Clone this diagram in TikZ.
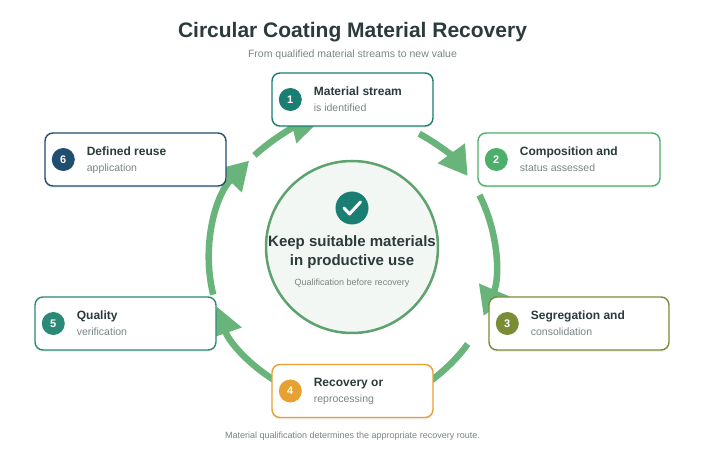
\documentclass[tikz,border=0pt]{standalone}
\usepackage{fontspec}
\setmainfont{Liberation Sans}
\usetikzlibrary{arrows.meta,shadows,calc}
\definecolor{ink}{HTML}{2B3A3A}
\definecolor{muted}{HTML}{7A8585}
\definecolor{ring}{HTML}{68B47A}
\definecolor{cA}{HTML}{1A7F72}
\definecolor{cB}{HTML}{4CAF6A}
\definecolor{cC}{HTML}{7A8C35}
\definecolor{cD}{HTML}{E8A030}
\definecolor{cE}{HTML}{2A8A78}
\definecolor{cF}{HTML}{1F4E6E}
\begin{document}
\begin{tikzpicture}[x=1pt,y=1pt,
  ringarrow/.style={draw=ring,line width=6.5pt,-{Triangle[length=28pt,width=32pt]}},
  box/.style={draw=#1,line width=1.4pt,fill=white,rounded corners=8pt,minimum height=53pt,
    drop shadow={shadow xshift=0pt,shadow yshift=-2pt,opacity=0.12}},
  num/.style={circle,fill=#1,text=white,font=\bfseries\fontsize{11}{11}\selectfont,minimum size=23pt,inner sep=0pt},
  t1/.style={font=\bfseries\fontsize{12}{14}\selectfont,text=ink,anchor=base west},
  t2/.style={font=\fontsize{10.5}{12}\selectfont,text=muted,anchor=base west}]
\useasboundingbox (0,0) rectangle (705,453);
\fill[white] (0,0) rectangle (705,453);
\node[font=\bfseries\fontsize{21}{24}\selectfont,text=ink] (title) at (352.5,421) {Circular Coating Material Recovery};
\node[font=\fontsize{10.5}{12}\selectfont,text=muted] (sub) at (352.5,398) {From qualified material streams to new value};
\node[font=\fontsize{9}{11}\selectfont,text=muted] (foot) at (352.5,17) {Material qualification determines the appropriate recovery route.};
% ring
\coordinate (c) at (352,193);
\draw[ringarrow] ($(c)+(62:143)$) arc (62:36:143);
\draw[ringarrow] ($(c)+(27:143)$) arc (27:-23:143);
\draw[ringarrow] ($(c)+(-36:143)$) arc (-36:-82:143);
\draw[ringarrow] ($(c)+(246:143)$) arc (246:199:143);
\draw[ringarrow] ($(c)+(194:143)$) arc (194:136:143);
\draw[ringarrow] ($(c)+(133:143)$) arc (133:103:143);
% centre
\node[circle,draw=ring!90!black,line width=2.5pt,fill={rgb,255:red,242;green,247;blue,243},minimum size=172pt] (hub) at (352,206) {};
\node[circle,fill=cA,minimum size=33pt] (chk) at (352,245) {};
\draw[white,line width=3pt,line cap=round,line join=round] ($(chk)+(-8,0)$) -- ($(chk)+(-2.5,-6)$) -- ($(chk)+(8.5,6)$);
\node[font=\bfseries\fontsize{15}{17}\selectfont,text=ink] (k1) at (352,210) {Keep suitable materials};
\node[font=\bfseries\fontsize{15}{17}\selectfont,text=ink] (k2) at (352,191) {in productive use};
\node[font=\fontsize{9}{11}\selectfont,text=muted] (k3) at (352,170) {Qualification before recovery};
% steps
\newcommand{\stepbox}[8]{%
  \node[box=#5,minimum width=#4pt] (#1) at (#2,#3) {};
  \node[num=#5] (#1n) at ($(#1.west)+(19,0)$) {#6};
  \node[t1] (#1a) at ($(#1.west)+(39,4)$) {#7};
  \node[t2] (#1b) at ($(#1.west)+(39,-12)$) {#8};}
\stepbox{s1}{352.5}{353.5}{161}{cA}{1}{Material stream}{is identified}
\stepbox{s2}{569}{293.5}{182}{cB}{2}{Composition and}{status assessed}
\stepbox{s3}{579}{129.5}{180}{cC}{3}{Segregation and}{consolidation}
\stepbox{s4}{352.5}{62}{161}{cD}{4}{Recovery or}{reprocessing}
\stepbox{s5}{125.5}{129.5}{181}{cE}{5}{Quality}{verification}
\stepbox{s6}{135.5}{293.5}{181}{cF}{6}{Defined reuse}{application}
\end{tikzpicture}
\end{document}
